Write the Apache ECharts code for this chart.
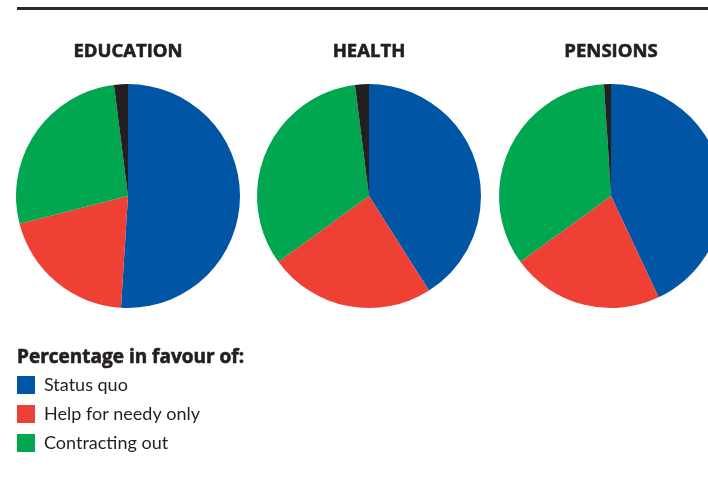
<!DOCTYPE html>
<html>
<head>
<meta charset="utf-8">
<style>
  html, body { margin: 0; padding: 0; background: #ffffff; }
  #chart { width: 708px; height: 486px; }
</style>
<script src="https://cdn.jsdelivr.net/npm/echarts@6/dist/echarts.min.js"></script>
</head>
<body>
<div id="chart"></div>
<script>
// Survey shares (percent) for each public service
const panels = ['EDUCATION', 'HEALTH', 'PENSIONS'];
const answers = ['Status quo', 'Help for needy only', 'Contracting out', 'No answer'];
const education = [51, 20, 27, 2];
const health = [41, 24, 33, 2];
const pensions = [43, 22, 34, 1];
const legendTitle = 'Percentage in favour of:';

const colors = ['#0055a5', '#ee4035', '#00a650', '#231f20'];
const panelValues = [education, health, pensions];
const centersX = [128, 369, 611];
const BODY_FONT = 'Lato, "Open Sans", sans-serif';
const HEAD_FONT = '"Open Sans", Lato, sans-serif';
const INK = '#231f20';

// heavy headings: bold face plus a thin stroke in the same ink
const headStyle = (size) => ({
  fontFamily: HEAD_FONT,
  fontWeight: 'bold',
  fontSize: size,
  color: INK,
  textBorderColor: INK,
  textBorderWidth: 0.6
});

const chart = echarts.init(document.getElementById('chart'), null, { renderer: 'canvas' });

const titles = panels.map((name, i) => ({
  text: name,
  left: centersX[i],
  top: 42,
  padding: 0,
  textAlign: 'center',
  textStyle: headStyle(18.5)
}));
titles.push({
  text: legendTitle,
  left: 17,
  top: 348,
  padding: 0,
  textStyle: headStyle(19)
});

const series = panelValues.map((vals, i) => ({
  type: 'pie',
  name: panels[i],
  center: [centersX[i], 196],
  radius: 112,
  startAngle: 90,
  clockwise: true,
  silent: true,
  animation: false,
  label: { show: false },
  labelLine: { show: false },
  data: vals.map((v, j) => ({ name: answers[j], value: v, itemStyle: { color: colors[j] } }))
}));

chart.setOption({
  backgroundColor: '#ffffff',
  animation: false,
  title: titles,
  legend: {
    orient: 'vertical',
    left: 17,
    top: 376,
    padding: 0,
    itemWidth: 18,
    itemHeight: 18,
    itemGap: 11,
    icon: 'rect',
    selectedMode: false,
    data: answers.slice(0, 3),
    textStyle: { fontFamily: BODY_FONT, fontSize: 18, color: INK, padding: [0, 0, 0, 4] }
  },
  graphic: [{
    type: 'rect',
    shape: { x: 17, y: 7, width: 708 - 17, height: 3 },
    style: { fill: '#2b2b2b' },
    silent: true
  }],
  series: series
});
</script>
</body>
</html>
